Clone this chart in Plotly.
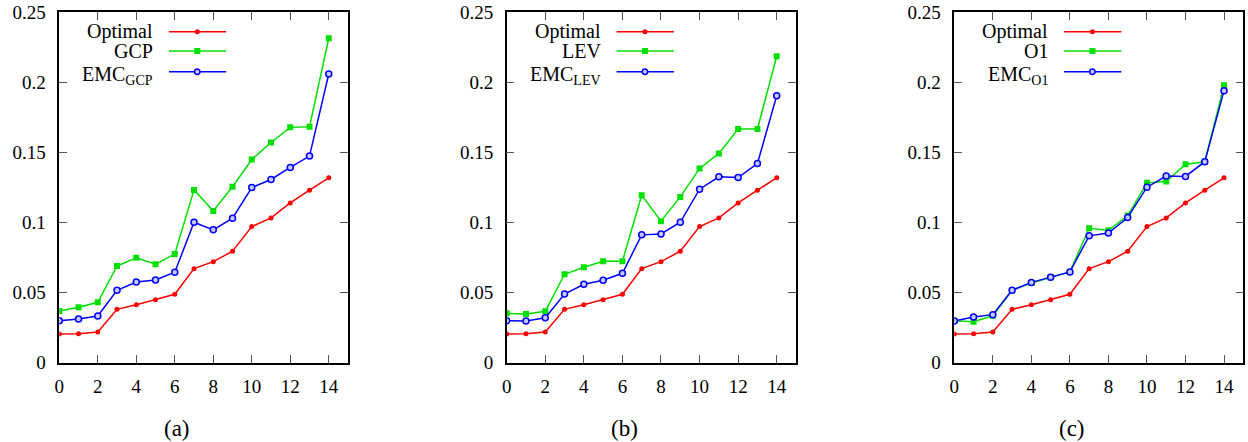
import plotly.graph_objects as go

x = list(range(15))
optimal = [0.0205, 0.0206, 0.0219, 0.0381, 0.0414, 0.0450, 0.0488, 0.0671, 0.0721, 0.0795, 0.0971, 0.1033, 0.1140, 0.1231, 0.1319]
gcp = [0.0369, 0.0395, 0.0431, 0.0690, 0.0748, 0.0702, 0.0776, 0.1233, 0.1083, 0.1255, 0.1450, 0.1571, 0.1679, 0.1683, 0.2314]
emc_gcp = [0.0300, 0.0312, 0.0333, 0.0517, 0.0576, 0.0590, 0.0645, 0.1002, 0.0948, 0.1031, 0.1250, 0.1307, 0.1393, 0.1474, 0.2060]
lev = [0.0352, 0.0348, 0.0367, 0.0631, 0.0681, 0.0724, 0.0724, 0.1195, 0.1010, 0.1183, 0.1386, 0.1493, 0.1667, 0.1667, 0.2186]
emc_lev = [0.0300, 0.0298, 0.0321, 0.0490, 0.0560, 0.0588, 0.0638, 0.0912, 0.0919, 0.1002, 0.1238, 0.1326, 0.1321, 0.1421, 0.1905]
o1 = [0.0300, 0.0293, 0.0335, 0.0517, 0.0568, 0.0610, 0.0648, 0.0959, 0.0945, 0.1050, 0.1283, 0.1293, 0.1416, 0.1433, 0.1979]
emc_o1 = [0.0298, 0.0326, 0.0343, 0.0517, 0.0573, 0.0610, 0.0648, 0.0905, 0.0925, 0.1036, 0.1252, 0.1332, 0.1329, 0.1434, 0.1941]

panels = [
    ("(a)", "GCP", gcp, "EMC<sub>GCP</sub>", emc_gcp),
    ("(b)", "LEV", lev, "EMC<sub>LEV</sub>", emc_lev),
    ("(c)", "O1", o1, "EMC<sub>O1</sub>", emc_o1),
]

W, H = 1248, 442
xdomains = [(59.3, 348.0), (506.7, 796.0), (954.3, 1243.3)]
ydom = (1 - 362.7 / H, 1 - 12.3 / H)
sub_x = [176.7, 624.0, 1071.7]

RED = "#ff0000"
GREEN = "#00e000"
BLUE = "#0000ff"
FONT = "Liberation Serif, Times New Roman, serif"

fig = go.Figure()
shapes = []
annotations = []

for i, (lab, name2, s2, name3, s3) in enumerate(panels):
    n = "" if i == 0 else str(i + 1)
    xa, ya = "x" + n, "y" + n
    fig.add_trace(go.Scatter(x=x, y=optimal, mode="lines+markers", xaxis=xa, yaxis=ya,
                             line=dict(color=RED, width=1.5),
                             marker=dict(symbol="circle", size=5, color=RED), showlegend=False))
    fig.add_trace(go.Scatter(x=x, y=s2, mode="lines+markers", xaxis=xa, yaxis=ya,
                             line=dict(color=GREEN, width=1.5),
                             marker=dict(symbol="square", size=6, color=GREEN), showlegend=False))
    fig.add_trace(go.Scatter(x=x, y=s3, mode="lines+markers", xaxis=xa, yaxis=ya,
                             line=dict(color=BLUE, width=1.5),
                             marker=dict(symbol="circle", size=6, color="#c8c8ff",
                                         line=dict(color=BLUE, width=1.5)), showlegend=False))
    d = xdomains[i]
    axcommon = dict(showline=True, linecolor="black", linewidth=1.5, mirror="allticks",
                    ticks="inside", ticklen=8, tickcolor="#555555", tickwidth=1,
                    showgrid=False, zeroline=False, automargin=False,
                    tickfont=dict(family=FONT, size=19, color="black"))
    fig.update_layout(**{
        ("xaxis" + n): dict(domain=[d[0] / W, d[1] / W], range=[0, 15], dtick=2, tick0=0,
                            anchor=ya, ticklabelstandoff=6, **axcommon),
        ("yaxis" + n): dict(domain=list(ydom), range=[0, 0.25], dtick=0.05, tick0=0,
                            anchor=xa, ticklabelstandoff=8, **axcommon),
    })
    xr, yr = xa + " domain", ya + " domain"
    rows = [("Optimal", RED, "dot"), (name2, GREEN, "sq"), (name3, BLUE, "oc")]
    ys = [0.9446, 0.8896, 0.8305]
    for (txt, col, mk), yy in zip(rows, ys):
        annotations.append(dict(text=txt, xref=xr, yref=yr, x=0.3325, y=yy if mk != "oc" else yy - 0.012,
                                xanchor="right", yanchor="middle", showarrow=False,
                                font=dict(family=FONT, size=20, color="black")))
        shapes.append(dict(type="line", xref=xr, yref=yr, x0=0.380, x1=0.578, y0=yy, y1=yy,
                           line=dict(color=col, width=1.5)))
        if mk == "dot":
            shapes.append(dict(type="circle", xref=xr, yref=yr, xsizemode="pixel", ysizemode="pixel",
                               xanchor=0.478, yanchor=yy, x0=-2.5, x1=2.5, y0=-2.5, y1=2.5,
                               fillcolor=col, line=dict(color=col, width=0)))
        elif mk == "sq":
            shapes.append(dict(type="rect", xref=xr, yref=yr, xsizemode="pixel", ysizemode="pixel",
                               xanchor=0.478, yanchor=yy, x0=-3, x1=3, y0=-3, y1=3,
                               fillcolor=col, line=dict(color=col, width=0)))
        else:
            shapes.append(dict(type="circle", xref=xr, yref=yr, xsizemode="pixel", ysizemode="pixel",
                               xanchor=0.478, yanchor=yy, x0=-2.7, x1=2.7, y0=-2.7, y1=2.7,
                               fillcolor="#c8c8ff", line=dict(color=col, width=1.5)))
    annotations.append(dict(text=lab, xref="paper", yref="paper", x=sub_x[i] / W, y=1 - 428 / H,
                            xanchor="center", yanchor="middle", showarrow=False,
                            font=dict(family=FONT, size=23, color="black")))

fig.update_layout(width=W, height=H, margin=dict(l=0, r=0, t=0, b=0, autoexpand=False),
                  paper_bgcolor="white", plot_bgcolor="white",
                  shapes=shapes, annotations=annotations, showlegend=False)
fig.write_html("out.html")
